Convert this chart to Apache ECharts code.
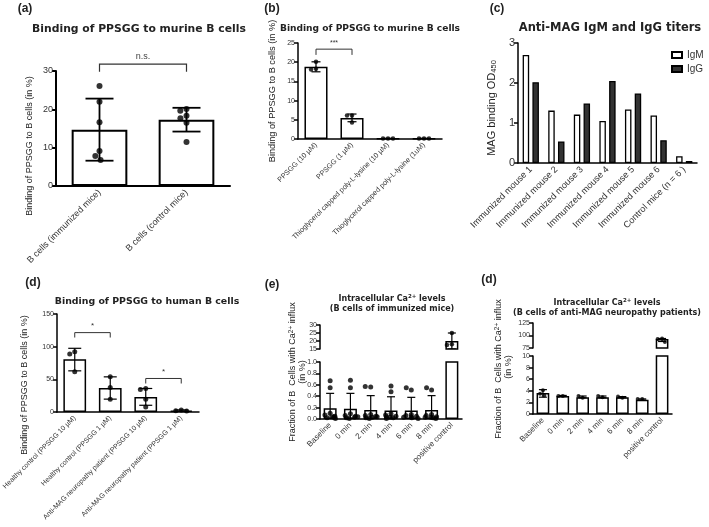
<!DOCTYPE html>
<html><head><meta charset="utf-8">
<script src="https://cdn.jsdelivr.net/npm/echarts@6/dist/echarts.min.js"></script>
<style>html,body{margin:0;padding:0;background:#fff}#c{width:709px;height:527px}</style>
</head><body><div id="c"></div>
<script>
// ---------- DATA ----------
// (a)
const aCats = ['B cells (immunized mice)', 'B cells (control mice)'];
const aMeans = [14.7, 17.3];
const aErrLow = [6.6, 14.2];
const aErrHigh = [22.8, 20.4];
const aPoints = [[26.1, 22.0, 16.6, 9.1, 7.8, 6.8], [20.1, 19.6, 18.3, 17.7, 16.5, 11.5]];
const aBrackets = [[0, 1, 31.8, 29.8]];
const aBracketLabels = ['n.s.'];
const aYTicks = [0, 30, 10];
// (b)
const bCats = ['PPSGG (10 µM)', 'PPSGG (1 µM)', 'Thioglycerol capped poly-L-lysine (10 µM)', 'Thioglycerol capped poly-L-lysine (1uM)'];
const bMeans = [18.8, 5.5, 0.1, 0.1];
const bErrLow = [17.5, 4.5, 0, 0];
const bErrHigh = [20.1, 6.5, 0.2, 0.2];
const bPoints = [[20.1, 18.3, 18.1], [6.1, 6.1, 4.3], [0.1, 0.1, 0.1], [0.1, 0.1, 0.1]];
const bBrackets = [[0, 1, 23.4, 21.9]];
const bBracketLabels = ['***'];
const bYTicks = [0, 25, 5];
// (c)
const cCats = ['Immunized mouse 1', 'Immunized mouse 2', 'Immunized mouse 3', 'Immunized mouse 4', 'Immunized mouse 5', 'Immunized mouse 6', 'Control mice (n = 6 )'];
const cIgM = [2.7, 1.31, 1.21, 1.05, 1.34, 1.19, 0.17];
const cIgG = [2.02, 0.54, 1.49, 2.05, 1.74, 0.57, 0.05];
const cYTicks = [0, 3, 1];
// (d)
const dCats = ['Healthy control (PPSGG 10 µM)', 'Healthy control (PPSGG 1 µM)', 'Anti-MAG neuropathy patient (PPSGG 10 µM)', 'Anti-MAG neuropathy patient (PPSGG 1 µM)'];
const dMeans = [80.6, 36.9, 23.0, 2.2];
const dErrLow = [63, 19.7, 10.3, 1.0];
const dErrHigh = [97.5, 53.8, 36, 3.2];
const dPoints = [[92.3, 88.8, 61.5], [53.8, 37.5, 19.5], [36, 34.5, 19.5, 7.7], [3.0, 2.0, 1.5]];
const dBrackets = [[0, 1, 121.5, 114], [2, 3, 51.3, 43.6]];
const dBracketLabels = ['*', '*'];
const dYTicks = [0, 150, 50];
// (e)
const eCats = ['Baseline', '0 min', '2 min', '4 min', '6 min', '8 min', 'positive control'];
const eMeans = [0.19, 0.18, 0.16, 0.15, 0.15, 0.16, 20];
const eErrLow = [0, 0, 0, 0, 0, 0, 15];
const eErrHigh = [0.45, 0.45, 0.41, 0.39, 0.38, 0.41, 25];
const ePoints = [
  [0.67, 0.55, 0.10, 0.07, 0.05, 0.04, 0.03, 0.02, 0.01],
  [0.68, 0.55, 0.09, 0.06, 0.05, 0.04, 0.03, 0.02, 0.01],
  [0.56, 0.57, 0.08, 0.06, 0.05, 0.04, 0.03, 0.02, 0.01],
  [0.58, 0.48, 0.09, 0.07, 0.05, 0.04, 0.03, 0.02, 0.01],
  [0.51, 0.55, 0.08, 0.06, 0.05, 0.04, 0.03, 0.02, 0.01],
  [0.51, 0.55, 0.08, 0.06, 0.04, 0.03, 0.03, 0.02, 0.01],
  [25, 18, 17.5]
];
const eLowTicks = [0, 1, 0.2];
const eUpTicks = [15, 30, 5];
// (f) second "(d)"
const fCats = ['Baseline', '0 min', '2 min', '4 min', '6 min', '8 min', 'positive control'];
const fMeans = [3.6, 3.1, 2.9, 2.9, 2.9, 2.45, 93];
const fErrLow = [2.9, 3.0, 2.8, 2.8, 2.8, 2.4, 88];
const fErrHigh = [4.2, 3.2, 3.1, 3.1, 3.0, 2.6, 94];
const fPoints = [[4.1, 3.5, 3.2], [3.1, 3.1], [2.8, 3.1], [2.9, 3.1], [2.8, 3.0], [2.6, 2.6], [94, 93, 87]];
const fLowTicks = [0, 10, 2];
const fUpTicks = [75, 125, 25];

// ---------- HELPERS ----------
const FONT = '"Liberation Sans", Arial, sans-serif';
const TFONT = '"DejaVu Sans", Verdana, sans-serif';

const grids = [
  {left: 56, top: 71, width: 174, height: 115},
  {left: 298, top: 43, width: 144, height: 96},
  {left: 518, top: 43, width: 179, height: 120},
  {left: 54, top: 314, width: 145, height: 98},
  {left: 320, top: 362, width: 142, height: 57},
  {left: 320, top: 325, width: 142, height: 24},
  {left: 533, top: 356, width: 139, height: 58},
  {left: 533, top: 323, width: 139, height: 25}
];

function xAx(gi, cats, o) {
  const lw = o.lw || 1.5;
  return {
    gridIndex: gi, type: 'category', data: cats, show: o.show !== false,
    axisLine: {lineStyle: {color: '#000', width: lw}},
    axisTick: {alignWithLabel: true, length: 4, lineStyle: {color: '#000', width: lw}},
    axisLabel: {rotate: 45, interval: 0, fontSize: o.fs, fontFamily: FONT, color: '#333', margin: 5},
    jitter: o.jitter || 0, jitterOverlap: false, jitterMargin: 0.5
  };
}
function yAx(gi, t, fs, lw, fmt) {
  lw = lw || 1.5;
  return {
    gridIndex: gi, type: 'value', min: t[0], max: t[1], interval: t[2],
    splitLine: {show: false},
    axisLine: {show: true, lineStyle: {color: '#000', width: lw}},
    axisTick: {show: true, length: 4, lineStyle: {color: '#000', width: lw}},
    axisLabel: {fontSize: fs, fontFamily: FONT, color: '#333', margin: 3, formatter: fmt}
  };
}
function barS(gi, data, bw, lw, extra) {
  return Object.assign({
    type: 'bar', xAxisIndex: gi, yAxisIndex: gi, data: data, barWidth: bw,
    itemStyle: {color: '#fff', borderColor: '#000', borderWidth: lw}, z: 2, silent: true
  }, extra || {});
}
function errS(gi, lows, highs, cap, lw) {
  return {
    type: 'custom', xAxisIndex: gi, yAxisIndex: gi, clip: true, z: 4, silent: true,
    encode: {x: 0, y: [1, 2]},
    data: lows.map((l, k) => [k, l, highs[k]]),
    renderItem: function (p, api) {
      const lo = api.coord([api.value(0), api.value(1)]);
      const hi = api.coord([api.value(0), api.value(2)]);
      const cx = lo[0];
      const st = {stroke: '#000', lineWidth: lw};
      const ch = [
        {type: 'line', shape: {x1: cx, y1: lo[1], x2: cx, y2: hi[1]}, style: st},
        {type: 'line', shape: {x1: cx - cap / 2, y1: hi[1], x2: cx + cap / 2, y2: hi[1]}, style: st}
      ];
      if (api.value(1) > 0) ch.push({type: 'line', shape: {x1: cx - cap / 2, y1: lo[1], x2: cx + cap / 2, y2: lo[1]}, style: st});
      return {type: 'group', children: ch};
    }
  };
}
function dotS(gi, pts, size, lo, hi) {
  const d = [];
  pts.forEach((arr, k) => arr.forEach(v => {
    if ((lo === undefined || v >= lo) && (hi === undefined || v <= hi)) d.push([k, v]);
  }));
  return {type: 'scatter', xAxisIndex: gi, yAxisIndex: gi, data: d, symbolSize: size,
    itemStyle: {color: '#000'}, z: 5, silent: true};
}
function brS(gi, br, labels, fs, color, lw) {
  return {
    type: 'custom', xAxisIndex: gi, yAxisIndex: gi, clip: false, z: 6, silent: true,
    encode: {x: [0, 1], y: [2, 3]},
    data: br,
    renderItem: function (p, api) {
      const a = api.coord([api.value(0), api.value(2)]);
      const b = api.coord([api.value(1), api.value(2)]);
      const a2 = api.coord([api.value(0), api.value(3)]);
      return {type: 'group', children: [
        {type: 'polyline', shape: {points: [[a[0], a2[1]], [a[0], a[1]], [b[0], b[1]], [b[0], a2[1]]]},
          style: {stroke: '#333', lineWidth: lw, fill: null}},
        {type: 'text', x: (a[0] + b[0]) / 2, y: a[1] - 3,
          style: {text: labels[p.dataIndex], font: fs + 'px ' + FONT, fill: color, align: 'center', verticalAlign: 'bottom'}}
      ]};
    }
  };
}
function txt(x, y, text, font, opts) {
  return Object.assign({type: 'text', x: x, y: y, style: Object.assign({text: text, font: font, fill: '#222', align: 'center', verticalAlign: 'middle'}, (opts && opts.style) || {})}, opts && opts.rot ? {rotation: Math.PI / 2} : {});
}

// ---------- OPTION ----------
const xAxis = [
  xAx(0, aCats, {fs: 9, lw: 2, jitter: 26}),
  xAx(1, bCats, {fs: 7.2, jitter: 20}),
  xAx(2, cCats, {fs: 9.2}),
  xAx(3, dCats, {fs: 7, jitter: 24}),
  xAx(4, eCats, {fs: 8, jitter: 18}),
  xAx(5, eCats, {show: false, jitter: 16}),
  xAx(6, fCats, {fs: 8, jitter: 14}),
  xAx(7, fCats, {show: false, jitter: 14})
];
const yAxis = [
  yAx(0, aYTicks, 9, 2),
  yAx(1, bYTicks, 7),
  yAx(2, cYTicks, 11),
  yAx(3, dYTicks, 7),
  yAx(4, eLowTicks, 7, 1.5, v => v.toFixed(1)),
  yAx(5, eUpTicks, 7),
  yAx(6, fLowTicks, 7),
  yAx(7, fUpTicks, 7)
];

const series = [
  barS(0, aMeans, '64%', 2),
  errS(0, aErrLow, aErrHigh, 28, 1.8),
  dotS(0, aPoints, 6),
  brS(0, aBrackets, aBracketLabels, 9, '#444', 1.2),

  barS(1, bMeans, '64%', 1.5),
  errS(1, bErrLow, bErrHigh, 9, 1.2),
  dotS(1, bPoints, 4.5),
  brS(1, bBrackets, bBracketLabels, 7, '#333', 1),

  barS(2, cIgM, 6.5, 1.3, {name: 'IgM', barGap: '50%'}),
  barS(2, cIgG, 6.5, 1.3, {name: 'IgG', barGap: '50%', itemStyle: {color: '#333', borderColor: '#000', borderWidth: 1.3}}),

  barS(3, dMeans, '64%', 1.5),
  errS(3, dErrLow, dErrHigh, 13, 1.2),
  dotS(3, dPoints, 5),
  brS(3, dBrackets, dBracketLabels, 8, '#333', 1),

  barS(4, eMeans, '64%', 1.5),
  errS(4, eErrLow, eErrHigh, 8, 1.2),
  dotS(4, ePoints, 5, undefined, 1),
  barS(5, eMeans, '64%', 1.5),
  errS(5, eErrLow, eErrHigh, 8, 1.2),
  dotS(5, ePoints, 4.5, 15),

  barS(6, fMeans, '64%', 1.5),
  errS(6, fErrLow, fErrHigh, 8, 1.2),
  dotS(6, fPoints, 4, undefined, 10),
  barS(7, fMeans, '64%', 1.5),
  errS(7, fErrLow, fErrHigh, 8, 1.2),
  dotS(7, fPoints, 4, 75)
];

const supRich = {sup: {fontSize: 5.5, fontWeight: 'bold', fontFamily: TFONT, verticalAlign: 'top', lineHeight: 10}};
const supRichN = {sup: {fontSize: 6.5, fontFamily: FONT, verticalAlign: 'top', lineHeight: 10}};

const graphic = [
  txt(25, 9, '(a)', 'bold 12px ' + FONT),
  txt(272, 9, '(b)', 'bold 12px ' + FONT),
  txt(497, 9, '(c)', 'bold 12px ' + FONT),
  txt(33, 283, '(d)', 'bold 12px ' + FONT),
  txt(272, 285, '(e)', 'bold 12px ' + FONT),
  txt(489, 280, '(d)', 'bold 12px ' + FONT),

  txt(139, 29, 'Binding of PPSGG to murine B cells', 'bold 10.8px ' + TFONT),
  txt(370, 29, 'Binding of PPSGG to murine B cells', 'bold 9.1px ' + TFONT),
  txt(610, 28, 'Anti-MAG IgM and IgG titers', 'bold 11.5px ' + TFONT),
  txt(147, 302, 'Binding of PPSGG to human B cells', 'bold 9.4px ' + TFONT),
  {type: 'text', x: 392, y: 299, style: {text: 'Intracellular Ca{sup|2+} levels', font: 'bold 8px ' + TFONT, fill: '#222', align: 'center', verticalAlign: 'middle', rich: supRich}},
  txt(392, 309, '(B cells of immunized mice)', 'bold 8px ' + TFONT),
  {type: 'text', x: 607, y: 303, style: {text: 'Intracellular Ca{sup|2+} levels', font: 'bold 8px ' + TFONT, fill: '#222', align: 'center', verticalAlign: 'middle', rich: supRich}},
  txt(607, 313, '(B cells of anti-MAG neuropathy patients)', 'bold 8px ' + TFONT),

  txt(30, 146, 'Binding of PPSGG to B cells (in %)', '9px ' + FONT, {rot: true}),
  txt(272, 91, 'Binding of PPSGG to B cells (in %)', '9.2px ' + FONT, {rot: true}),
  {type: 'text', x: 492, y: 108, rotation: Math.PI / 2, style: {text: 'MAG binding OD{sub|450}', font: '11px ' + FONT, fill: '#222', align: 'center', verticalAlign: 'middle',
    rich: {sub: {fontSize: 7.5, fontFamily: FONT, verticalAlign: 'bottom', lineHeight: 12}}}},
  txt(25, 385, 'Binding of PPSGG to B cells (in %)', '9px ' + FONT, {rot: true}),
  {type: 'text', x: 293, y: 372, rotation: Math.PI / 2, style: {text: 'Fraction of B  Cells with Ca{sup|2+} influx', font: '9px ' + FONT, fill: '#222', align: 'center', verticalAlign: 'middle', rich: supRichN}},
  txt(303, 372, '(in %)', '9px ' + FONT, {rot: true}),
  {type: 'text', x: 499, y: 369, rotation: Math.PI / 2, style: {text: 'Fraction of B  Cells with Ca{sup|2+} influx', font: '9px ' + FONT, fill: '#222', align: 'center', verticalAlign: 'middle', rich: supRichN}},
  txt(509, 367, '(in %)', '9px ' + FONT, {rot: true})
];

const chart = echarts.init(document.getElementById('c'), null, {renderer: 'canvas'});
chart.setOption({
  animation: false,
  backgroundColor: '#fff',
  grid: grids,
  xAxis: xAxis,
  yAxis: yAxis,
  series: series,
  legend: {left: 666, top: 45, orient: 'vertical', itemWidth: 10, itemHeight: 6, itemGap: 4, icon: 'rect',
    textStyle: {fontSize: 10, fontFamily: FONT, color: '#333'}, data: ['IgM', 'IgG']},
  graphic: graphic
});
</script></body></html>
